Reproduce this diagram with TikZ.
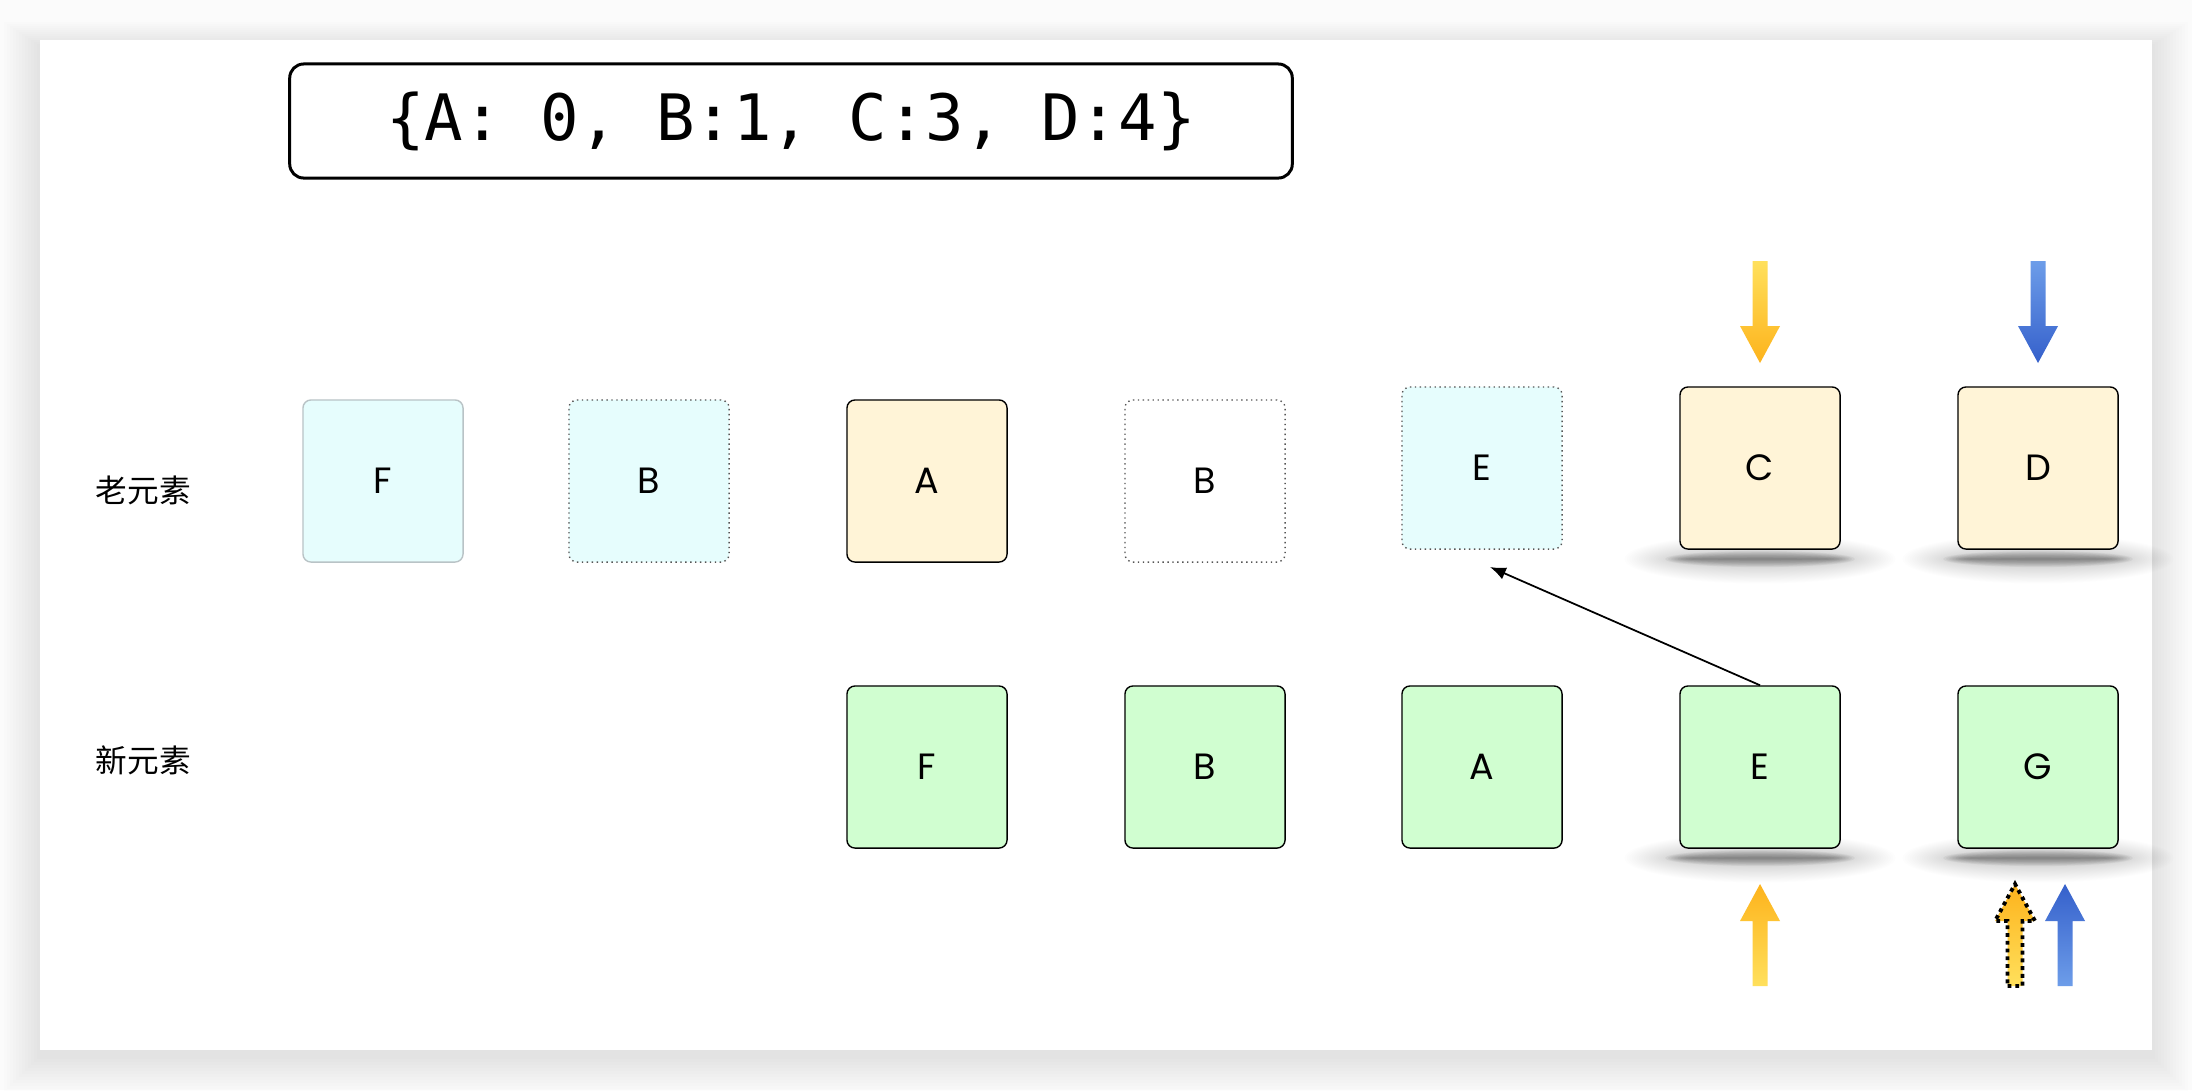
\documentclass[tikz,border=0pt]{standalone}
\usepackage{fontspec}
\usetikzlibrary{arrows.meta}
\newfontfamily\cjkfont{Noto Sans CJK SC}
\newfontfamily\codefont{DejaVu Sans Mono}
\newfontfamily\letterfont{Poppins}
\definecolor{cyanfill}{HTML}{E6FDFD}
\definecolor{creamfill}{HTML}{FFF4D7}
\definecolor{greenfill}{HTML}{D0FED0}
\definecolor{softedge}{HTML}{B9C3C6}
\definecolor{dotedge}{HTML}{555555}
\definecolor{ylight}{HTML}{FFE05C}
\definecolor{ydark}{HTML}{FDB31C}
\definecolor{blight}{HTML}{6D9DE9}
\definecolor{bdark}{HTML}{3560CB}

% soft shadow lying under a raised cell: wide faint haze plus a darker core
\newcommand{\liftshadow}[2]{%
  \foreach \k in {1,...,24}{%
    \fill[black, opacity=0.009] (#1,#2) ellipse [x radius={(78+2.4*\k)*0.01cm}, y radius={(3+0.9*\k)*0.01cm}];
  }%
  \foreach \k in {1,...,9}{%
    \fill[black, opacity=0.045] (#1,#2) ellipse [x radius={(68+3*\k)*0.01cm}, y radius={(0.9*\k)*0.01cm}];
  }}
% block arrow pointing down / up, centred on x = #1
\newcommand{\downpath}[1]{(#1-7.5,-261) -- (#1+7.5,-261) -- (#1+7.5,-326) -- (#1+20,-326) -- (#1,-363) -- (#1-20,-326) -- (#1-7.5,-326) -- cycle}
\newcommand{\uppath}[1]{(#1-7.5,-986) -- (#1+7.5,-986) -- (#1+7.5,-921) -- (#1+20,-921) -- (#1,-884) -- (#1-20,-921) -- (#1-7.5,-921) -- cycle}

\begin{document}
\begin{tikzpicture}[x=0.01cm,y=0.01cm,
  cell/.style={rectangle, rounded corners=0.08cm, minimum width=1.6cm, minimum height=1.62cm,
    inner sep=0pt, line width=0.4pt, font=\letterfont\fontsize{10.4}{12}\selectfont},
  oldsoft/.style={cell, fill=cyanfill, draw=softedge},
  olddot/.style={cell, fill=cyanfill, draw=dotedge, densely dotted},
  blankdot/.style={cell, fill=white, draw=dotedge, densely dotted},
  kept/.style={cell, fill=creamfill, draw=black},
  fresh/.style={cell, fill=greenfill, draw=black},
  rowlabel/.style={font=\cjkfont\fontsize{9}{11}\selectfont, anchor=west, inner sep=0pt},
  pointer/.style={line width=0.5pt, -{Latex[length=4.5pt,width=3.6pt]}},
]
% page and card
\fill[gray!3] (0,0) rectangle (2192,-1090);
\useasboundingbox (0,0) rectangle (2192,-1090);
\foreach \k in {1,...,12}{%
  \fill[black, opacity=0.007] ({40-3*\k},{-46+2*\k}) rectangle ({2152+3*\k},{-1056-3*\k});
}
\fill[white] (40,-40) rectangle (2152,-1050);

% key map
\node[draw, line width=0.85pt, rounded corners=0.14cm, minimum width=10.02cm, minimum height=1.14cm,
  font=\codefont\fontsize{18.2}{20}\selectfont] (dict) at (791,-121) {\{A: 0, B:1, C:3, D:4\}};

% row labels
\node[rowlabel] (lold) at (95,-490) {老元素};
\node[rowlabel] (lnew) at (95,-760) {新元素};

% shadows under the current cells
\liftshadow{1760}{-559}
\liftshadow{2038}{-559}
\liftshadow{1760}{-858}
\liftshadow{2038}{-858}

% old elements
\node[oldsoft]  (oF)  at (383,-481)  {F};
\node[olddot]   (oB)  at (649,-481)  {B};
\node[kept]     (oA)  at (927,-481)  {A};
\node[blankdot] (oB2) at (1205,-481) {B};
\node[olddot]   (oE)  at (1482,-468) {E};
\node[kept]     (oC)  at (1760,-468) {C};
\node[kept]     (oD)  at (2038,-468) {D};

% new elements
\node[fresh] (nF) at (927,-767)  {F};
\node[fresh] (nB) at (1205,-767) {B};
\node[fresh] (nA) at (1482,-767) {A};
\node[fresh] (nE) at (1760,-767) {E};
\node[fresh] (nG) at (2038,-767) {G};

% E found in the old list
\coordinate (hit) at (1490,-567);
\draw[pointer] (nE.north) -- (hit);

% position markers
\shade[top color=ylight, bottom color=ydark] \downpath{1760};
\shade[top color=blight, bottom color=bdark] \downpath{2038};
\shade[top color=ydark, bottom color=ylight] \uppath{1760};
\shadedraw[top color=ydark, bottom color=ylight, draw=black, line width=1.1pt,
  dash pattern=on 1.1pt off 1.1pt] \uppath{2015};
\shade[top color=bdark, bottom color=blight] \uppath{2065};
\end{tikzpicture}
\end{document}
